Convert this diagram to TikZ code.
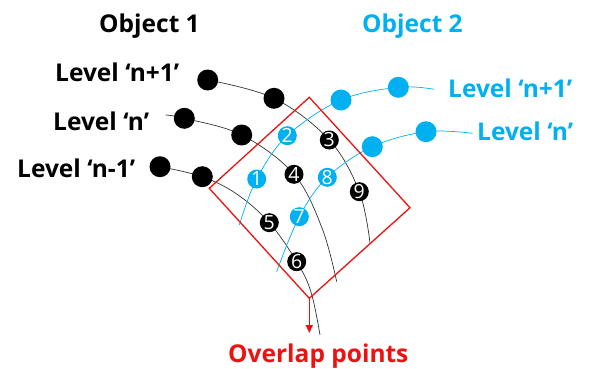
\documentclass[tikz,border=0pt]{standalone}
\usepackage{fontspec}
\setmainfont{Open Sans}
\usetikzlibrary{arrows.meta,backgrounds}
\definecolor{objblue}{HTML}{00B0F0}
\definecolor{ovred}{HTML}{EE1111}
\begin{document}
\begin{tikzpicture}[x=1pt,y=-1pt,
  bigdot/.style={circle,fill=#1,inner sep=0pt,minimum size=21pt},
  numdot/.style={circle,fill=#1,inner sep=0pt,minimum size=19pt,text=white,font=\fontsize{19.5}{19.5}\selectfont},
  lbl/.style={anchor=base west,inner sep=0pt,font=\fontsize{24.5}{28}\selectfont\bfseries},
  arcline/.style={draw=#1,line width=0.7pt},
  boxline/.style={draw=ovred,line width=1.3pt}]
\useasboundingbox (0,0) rectangle (591,369);
% labels
\node[lbl] (o1) at (99,33) {Object 1};
\node[lbl,text=objblue] (o2) at (362,33) {Object 2};
\node[lbl] (l1a) at (55,81.5) {Level ‘n+1’};
\node[lbl] (l1b) at (53,130) {Level ‘n’};
\node[lbl] (l1c) at (17,177) {Level ‘n-1’};
\node[lbl,text=objblue] (l2a) at (448,97) {Level ‘n+1’};
\node[lbl,text=objblue] (l2b) at (477,140) {Level ‘n’};
\node[lbl,text=ovred] (ov) at (228,362) {Overlap points};
% black dots
\node[bigdot=black] (ba1) at (207.7,80) {};
\node[bigdot=black] (ba2) at (274,98.3) {};
\node[bigdot=black] (bb1) at (184.3,118.3) {};
\node[bigdot=black] (bb2) at (241.7,135) {};
\node[bigdot=black] (bc1) at (160,166.7) {};
\node[bigdot=black] (bc2) at (202.3,176.7) {};
% blue dots
\node[bigdot=objblue] (ca1) at (398.3,87.3) {};
\node[bigdot=objblue] (ca2) at (341,100) {};
\node[bigdot=objblue] (cb1) at (426,131.7) {};
\node[bigdot=objblue] (cb2) at (372.3,146.7) {};
% numbered
\node[numdot=objblue] (n1) at (256.7,179) {1};
\node[numdot=objblue] (n2) at (287.3,135.7) {2};
\node[numdot=black] (n3) at (329.3,140) {3};
\node[numdot=black] (n4) at (294,174.3) {4};
\node[numdot=black] (n5) at (269.3,222.7) {5};
\node[numdot=black] (n6) at (296.7,261.7) {6};
\node[numdot=objblue] (n7) at (299.3,216.7) {7};
\node[numdot=objblue] (n8) at (327.3,177.3) {8};
\node[numdot=black] (n9) at (359.3,191.7) {9};
% rectangle corners
\coordinate (rt) at (309.3,97.3);
\coordinate (rl) at (209.3,188.3);
\coordinate (rr) at (410,207.7);
\coordinate (rb) at (309.3,298.3);
\coordinate (arend) at (309.3,333);
% curve free ends
\coordinate (ea) at (370,243);
\coordinate (sb) at (165.7,115);
\coordinate (mb) at (322,228);
\coordinate (eb) at (336.7,281.7);
\coordinate (mc1) at (236.7,194);
\coordinate (mc2) at (311,292);
\coordinate (ec) at (320,335);
\coordinate (fa) at (434,89.3);
\coordinate (ga) at (239.3,225);
\coordinate (fb) at (472.7,133.3);
\coordinate (gb) at (276.7,271.7);
\begin{scope}[on background layer]
\draw[arcline=black!80] plot[smooth,tension=0.6] coordinates {(ba1.center) (ba2.center) (n3.center) (n9.center) (ea)};
\draw[arcline=black!80] plot[smooth,tension=0.6] coordinates {(sb) (bb1.center) (bb2.center) (n4.center) (mb) (eb)};
\draw[arcline=black!80] plot[smooth,tension=0.6] coordinates {(bc1.center) (bc2.center) (mc1) (n5.center) (n6.center) (mc2) (ec)};
\draw[arcline=objblue] plot[smooth,tension=0.6] coordinates {(fa) (ca1.center) (ca2.center) (n2.center) (n1.center) (ga)};
\draw[arcline=objblue] plot[smooth,tension=0.6] coordinates {(fb) (cb1.center) (cb2.center) (n8.center) (n7.center) (gb)};
\end{scope}
\draw[boxline] (rt) -- (rr) -- (rb) -- (rl) -- cycle;
\draw[boxline,-{Triangle[width=7pt,length=8pt]}] (rb) -- (arend);
\end{tikzpicture}
\end{document}
